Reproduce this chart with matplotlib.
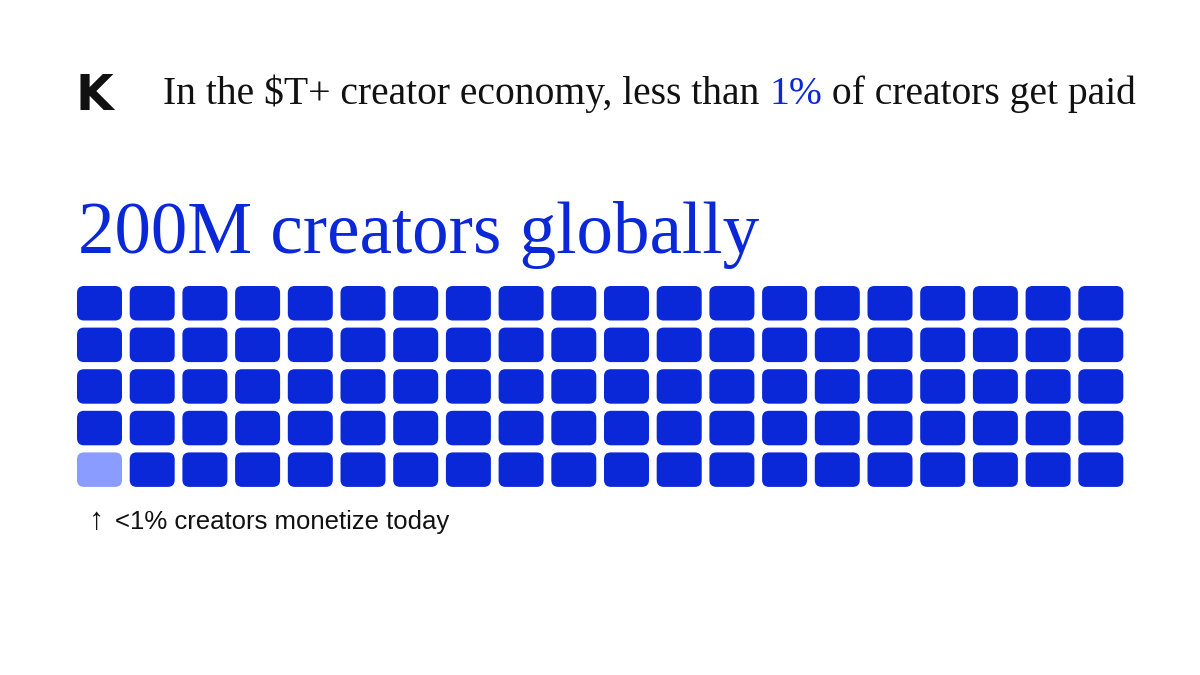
import matplotlib.pyplot as plt
from matplotlib.patches import FancyBboxPatch

# Data
total_creators_m = 200      # millions
paid_share_pct = 1          # percent of creators who get paid
n_cols = 20
n_rows = 5

headline = ["In the $T+ creator economy, less than ", "1%", " of creators get paid"]
big_title = f"{total_creators_m}M creators globally"
note = "<1% creators monetize today"

blue = "#0A28D8"
light_blue = "#8A9CFF"
dark = "#111111"

fig = plt.figure(figsize=(12, 6.75), dpi=100)
ax = fig.add_axes([0, 0, 1, 1])
ax.set_xlim(0, 1200)
ax.set_ylim(675, 0)
ax.axis("off")

# Logo
ax.text(75, 110, "K", fontsize=35, fontweight="heavy", family="DejaVu Sans",
        color=dark, va="baseline", ha="left")

# Headline with highlighted 1%
fig.canvas.draw()
renderer = fig.canvas.get_renderer()
x = 163
for i, part in enumerate(headline):
    t = ax.text(x, 104, part, fontsize=28.5, family="Liberation Serif",
                color=blue if i == 1 else dark, va="baseline", ha="left",
                parse_math=False)
    bb = t.get_window_extent(renderer)
    x += bb.width

# Big title
ax.text(78, 253, big_title, fontsize=52.6, family="Liberation Serif",
        color=blue, va="baseline", ha="left")

# Waffle grid
n_cells = n_cols * n_rows
n_paid = round(n_cells * paid_share_pct / 100)
x0, y0 = 77, 286
pitch_x, pitch_y = 52.7, 41.6
w, h = 45, 34.5
for r in range(n_rows):
    for c in range(n_cols):
        idx = (n_rows - 1 - r) * n_cols + c  # count from bottom-left
        color = light_blue if idx < n_paid else blue
        px = x0 + c * pitch_x
        py = y0 + r * pitch_y
        ax.add_patch(FancyBboxPatch((px + 7, py + 7), w - 14, h - 14,
                                    boxstyle="round,pad=7",
                                    fc=color, ec="none"))

# Annotation
ax.text(89, 529, "↑", fontsize=22, family=["Liberation Sans", "DejaVu Sans"],
        color=dark, va="baseline", ha="left")
ax.text(115, 529, note, fontsize=18.5, family="Liberation Sans",
        color=dark, va="baseline", ha="left")

fig.savefig("out.png", dpi=100, facecolor="white")
